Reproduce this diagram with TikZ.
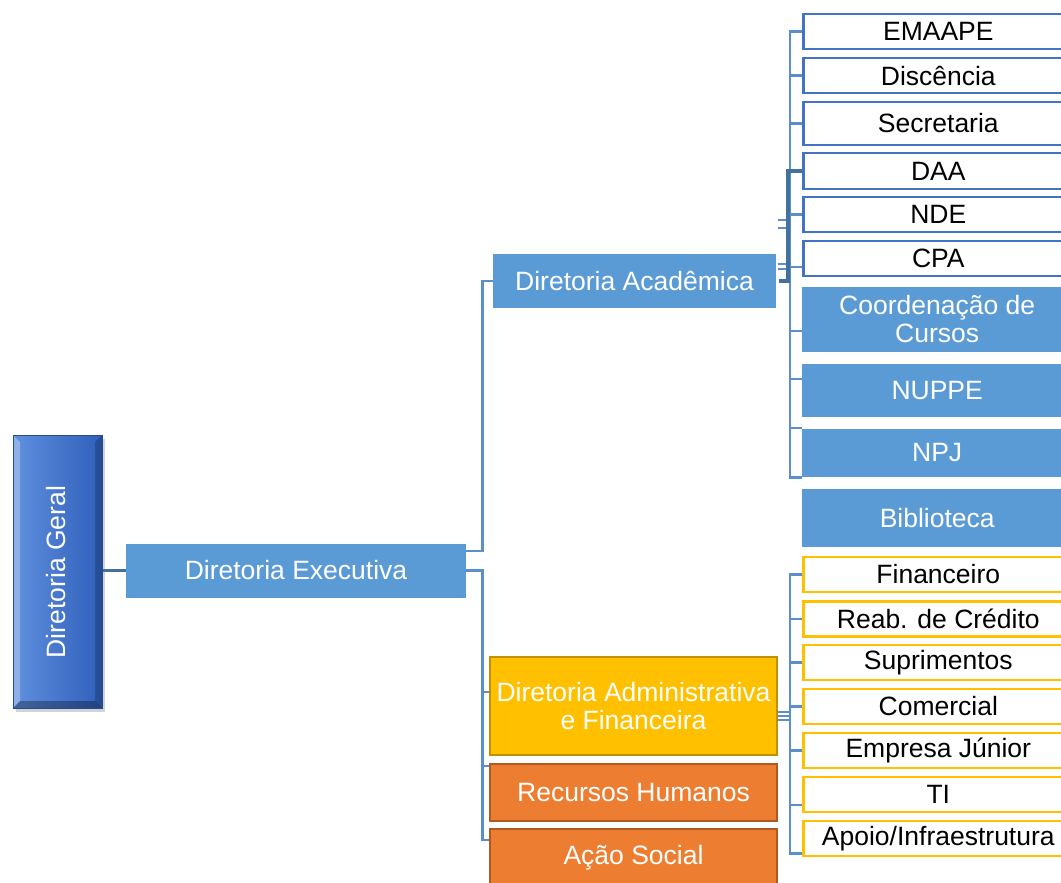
\documentclass[tikz,border=0pt]{standalone}
\usepackage{fontspec}
\setmainfont{Liberation Sans}
\usepackage{tikz}
\usetikzlibrary{calc,shadows}
\definecolor{cFill}{HTML}{5B9BD5}
\definecolor{cEdge}{HTML}{4472C4}
\definecolor{cLink}{HTML}{5B8FCC}
\definecolor{cDark}{HTML}{41719C}
\definecolor{cGold}{HTML}{FFC000}
\definecolor{cGoldEdge}{HTML}{BF9000}
\definecolor{cOrange}{HTML}{ED7D31}
\definecolor{cOrangeEdge}{HTML}{AE5A21}
\definecolor{cGeralL}{HTML}{6090DE}
\definecolor{cGeralR}{HTML}{2F5FBA}
\tikzset{
  oBox/.style={rectangle,align=center,inner sep=1pt,font=\fontsize{26.5}{28}\selectfont},
  oMain/.style={oBox,fill=cFill,text=white,minimum height=54},
  oBlue/.style={oBox,draw=cEdge,line width=2.6,fill=white,anchor=west,minimum width=270},
  oSub/.style={oBox,fill=cFill,text=white,anchor=west,minimum width=270},
  oGold/.style={oBox,draw=cGold,line width=2.6,fill=white,anchor=west,minimum width=270,minimum height=35},
  oAdm/.style={oBox,fill=cGold,draw=cGoldEdge,line width=2.2,text=white,minimum width=287},
  oHR/.style={oBox,fill=cOrange,draw=cOrangeEdge,line width=2.2,text=white,minimum width=287},
  oGeral/.style={rectangle,minimum width=89,minimum height=273,left color=cGeralL,right color=cGeralR,
        draw=cGeralR!80!black,line width=1,
        drop shadow={opacity=.35,shadow xshift=3pt,shadow yshift=-4pt},
        path picture={
          \fill[white,opacity=.3] (path picture bounding box.north west) -- (path picture bounding box.south west)
            -- ([shift={(7pt,7pt)}]path picture bounding box.south west) -- ([shift={(7pt,-7pt)}]path picture bounding box.north west) -- cycle;
          \fill[black,opacity=.2] (path picture bounding box.north east) -- (path picture bounding box.south east)
            -- ([shift={(-7pt,7pt)}]path picture bounding box.south east) -- ([shift={(-7pt,-7pt)}]path picture bounding box.north east) -- cycle;
          \fill[black,opacity=.3] (path picture bounding box.south west) -- (path picture bounding box.south east)
            -- ([shift={(-7pt,7pt)}]path picture bounding box.south east) -- ([shift={(7pt,7pt)}]path picture bounding box.south west) -- cycle;
        }},
  lnk/.style={draw=cLink,line width=2.8},
  dlnk/.style={draw=cDark,line width=4},
}
\begin{document}
\begin{tikzpicture}[x=1pt,y=-1pt]
\useasboundingbox (0,0) rectangle (1061,883);

% left part
\node[oGeral] (geral) at (57.5,571.5) {};
\node[rotate=90,text=white,font=\fontsize{26.5}{28}\selectfont] (geraltxt) at (56.5,572) {Diretoria Geral};
\node[oMain,minimum width=340] (exec) at (296,570.5) {Diretoria Executiva};
\node[oMain,minimum width=283] (acad) at (634.5,281) {Diretoria Acadêmica};
\node[oAdm,minimum height=98] (adm) at (633.5,706) {Diretoria Administrativa\\e Financeira};
\node[oHR,minimum height=57] (hr) at (633.5,792.5) {Recursos Humanos};
\node[oHR,minimum height=58] (acao) at (633.5,858) {Ação Social};

% academic units
\node[oBlue,minimum height=35] (emaape) at (802,31.5)  {EMAAPE};
\node[oBlue,minimum height=35] (disc)   at (802,75.5)  {Discência};
\node[oBlue,minimum height=43] (secr)   at (802,123.5) {Secretaria};
\node[oBlue,minimum height=36] (daa)    at (802,171)   {DAA};
\node[oBlue,minimum height=35] (nde)    at (802,214.5) {NDE};
\node[oBlue,minimum height=35] (cpa)    at (802,258.5) {CPA};
\node[oSub,minimum height=65]  (coord)  at (802,319.5) {Coordenação de\\Cursos};
\node[oSub,minimum height=53]  (nuppe)  at (802,390.5) {NUPPE};
\node[oSub,minimum height=48]  (npj)    at (802,453)   {NPJ};
\node[oSub,minimum height=58]  (bib)    at (802,518)   {Biblioteca};

% administrative units
\node[oGold] (fin)   at (802,574.5) {Financeiro};
\node[oGold] (reab)  at (802,619)   {Reab. de Crédito};
\node[oGold] (supr)  at (802,662.5) {Suprimentos};
\node[oGold] (com)   at (802,706.5) {Comercial};
\node[oGold] (emp)   at (802,750.5) {Empresa Júnior};
\node[oGold] (ti)    at (802,794.5) {TI};
\node[oGold] (apoio) at (802,838.5) {Apoio/Infraestrutura};

% connectors
\draw[dlnk,line width=2.6] (geral.east |- exec.west) -- (exec.west);
\draw[lnk] ([yshift=19.5pt]exec.east) -- ++(16,0) |- (acad.west);
\draw[lnk] (exec.east) -- ++(16,0) coordinate (eb) |- ([yshift=18pt]acao.west);
\draw[lnk] (eb) |- ([yshift=14pt]adm.west);
\draw[lnk] (eb) |- ([yshift=26.5pt]hr.west);

\draw[lnk] (emaape.west) -- ++(-12,0) |- (npj.south west);
\foreach \n/\dy in {disc/0,secr/0,nde/0,cpa/-8.5,coord/-11.5,nuppe/11.5,npj/25}
  \draw[lnk] ([yshift=\dy pt]\n.west) -- ++(-12,0);
\foreach \dy in {61,53,17,12}
  \draw[lnk,line width=1.8] ([xshift=2pt,yshift=\dy pt]acad.east) -- ++(10,0);
\draw[dlnk] ([xshift=3pt]acad.east) -- ++(9,0) |- (daa.west);

\draw[lnk] (fin.west) -- ++(-12,0) |- ([yshift=-15pt]apoio.west);
\foreach \n/\dy in {reab/0,supr/0,com/0,emp/0,ti/-10.5}
  \draw[lnk] ([yshift=\dy pt]\n.west) -- ++(-12,0);
\foreach \dy in {-6,-10,-14}
  \draw[lnk,line width=1.5] ([yshift=\dy pt]adm.east) -- ++(13,0);
\end{tikzpicture}
\end{document}
